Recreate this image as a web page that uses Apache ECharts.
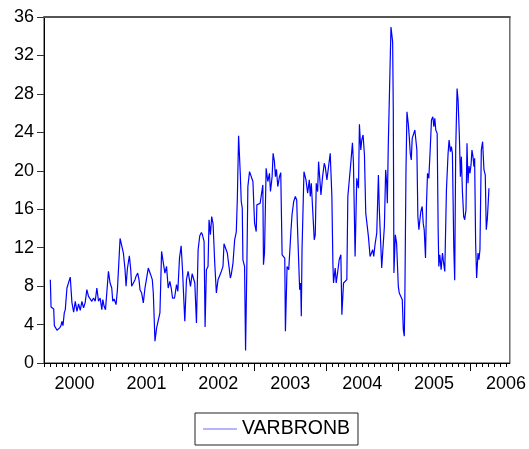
<!DOCTYPE html>
<html>
<head>
<meta charset="utf-8">
<script src="https://cdn.jsdelivr.net/npm/echarts@6/dist/echarts.min.js"></script>
<style>
  html, body { margin: 0; padding: 0; background: #fff; }
  #chart { width: 529px; height: 449px; }
</style>
</head>
<body>
<div id="chart"></div>
<script>
// Observation dates (decimal years) of VARBRONB
const obsYears = [
  2000.164, 2000.174, 2000.211, 2000.220, 2000.247, 2000.257, 2000.280, 2000.294, 2000.312, 2000.326,
  2000.340, 2000.358, 2000.372, 2000.395, 2000.418, 2000.441, 2000.464, 2000.488, 2000.511, 2000.534,
  2000.557, 2000.580, 2000.603, 2000.626, 2000.649, 2000.672, 2000.695, 2000.718, 2000.741, 2000.765,
  2000.788, 2000.811, 2000.834, 2000.857, 2000.880, 2000.894, 2000.912, 2000.931, 2000.949, 2000.972,
  2000.995, 2001.018, 2001.032, 2001.051, 2001.078, 2001.097, 2001.115, 2001.134, 2001.157, 2001.180,
  2001.203, 2001.217, 2001.235, 2001.263, 2001.282, 2001.295, 2001.319, 2001.342, 2001.355, 2001.379,
  2001.397, 2001.411, 2001.434, 2001.457, 2001.480, 2001.503, 2001.526, 2001.549, 2001.559, 2001.582,
  2001.596, 2001.619, 2001.642, 2001.669, 2001.688, 2001.711, 2001.734, 2001.757, 2001.780, 2001.803,
  2001.826, 2001.845, 2001.863, 2001.891, 2001.919, 2001.937, 2001.960, 2001.983, 2002.002, 2002.016,
  2002.034, 2002.057, 2002.080, 2002.094, 2002.113, 2002.136, 2002.159, 2002.173, 2002.196, 2002.219,
  2002.242, 2002.265, 2002.279, 2002.302, 2002.316, 2002.334, 2002.357, 2002.371, 2002.390, 2002.408,
  2002.427, 2002.450, 2002.473, 2002.496, 2002.519, 2002.542, 2002.565, 2002.579, 2002.602, 2002.625,
  2002.648, 2002.667, 2002.680, 2002.704, 2002.727, 2002.750, 2002.764, 2002.782, 2002.805, 2002.819,
  2002.833, 2002.842, 2002.865, 2002.879, 2002.898, 2002.911, 2002.934, 2002.958, 2002.981, 2003.004,
  2003.027, 2003.036, 2003.059, 2003.082, 2003.105, 2003.119, 2003.128, 2003.142, 2003.165, 2003.188,
  2003.211, 2003.225, 2003.248, 2003.262, 2003.280, 2003.294, 2003.308, 2003.327, 2003.350, 2003.368,
  2003.387, 2003.410, 2003.424, 2003.433, 2003.456, 2003.479, 2003.497, 2003.511, 2003.525, 2003.548,
  2003.571, 2003.590, 2003.599, 2003.618, 2003.631, 2003.645, 2003.654, 2003.664, 2003.678, 2003.691,
  2003.719, 2003.742, 2003.765, 2003.779, 2003.793, 2003.811, 2003.834, 2003.848, 2003.862, 2003.881,
  2003.894, 2003.913, 2003.927, 2003.950, 2003.973, 2003.987, 2004.010, 2004.033, 2004.056, 2004.079,
  2004.093, 2004.102, 2004.125, 2004.139, 2004.158, 2004.181, 2004.204, 2004.218, 2004.241, 2004.264,
  2004.287, 2004.301, 2004.324, 2004.342, 2004.365, 2004.379, 2004.402, 2004.425, 2004.449, 2004.462,
  2004.481, 2004.495, 2004.513, 2004.532, 2004.550, 2004.569, 2004.587, 2004.610, 2004.633, 2004.647,
  2004.661, 2004.679, 2004.703, 2004.726, 2004.739, 2004.758, 2004.772, 2004.795, 2004.809, 2004.827,
  2004.841, 2004.850, 2004.864, 2004.887, 2004.901, 2004.924, 2004.933, 2004.942, 2004.961, 2004.979,
  2005.003, 2005.016, 2005.040, 2005.058, 2005.072, 2005.086, 2005.095, 2005.109, 2005.123, 2005.141,
  2005.155, 2005.169, 2005.183, 2005.196, 2005.215, 2005.233, 2005.247, 2005.261, 2005.275, 2005.289,
  2005.303, 2005.316, 2005.335, 2005.349, 2005.363, 2005.381, 2005.395, 2005.409, 2005.427, 2005.446,
  2005.464, 2005.483, 2005.497, 2005.510, 2005.524, 2005.543, 2005.557, 2005.566, 2005.580, 2005.598,
  2005.617, 2005.630, 2005.649, 2005.672, 2005.695, 2005.709, 2005.727, 2005.741, 2005.755, 2005.774,
  2005.787, 2005.801, 2005.820, 2005.834, 2005.852, 2005.866, 2005.880, 2005.894, 2005.912, 2005.926,
  2005.944, 2005.958, 2005.972, 2005.986, 2005.999, 2006.014, 2006.027, 2006.041, 2006.055, 2006.064,
  2006.078, 2006.092, 2006.111, 2006.124, 2006.138, 2006.157, 2006.175, 2006.194, 2006.212, 2006.226,
  2006.240, 2006.254, 2006.263
];

// VARBRONB values
const varbronb = [
  8.67, 5.83, 5.62, 3.89, 3.82, 3.41, 3.27, 3.65, 3.89, 4.34,
  3.89, 5.21, 5.55, 7.80, 7.87, 8.94, 6.31, 5.28, 6.42, 5.38,
  6.14, 5.48, 6.42, 5.73, 6.31, 7.63, 6.94, 7.04, 6.42, 6.76,
  6.42, 7.80, 6.42, 6.76, 5.55, 6.59, 5.90, 5.55, 7.28, 9.53,
  8.32, 7.80, 6.42, 6.66, 6.07, 7.63, 7.80, 12.96, 12.99, 11.44,
  9.71, 7.98, 9.78, 11.16, 9.71, 7.98, 8.15, 8.67, 9.01, 9.36,
  8.67, 7.63, 7.28, 6.25, 7.80, 7.63, 9.88, 9.88, 9.19, 8.67,
  7.28, 2.27, 3.65, 3.65, 5.21, 11.61, 11.44, 9.36, 10.05, 7.80,
  8.49, 7.80, 6.76, 6.76, 8.15, 7.46, 10.92, 12.20, 9.71, 7.28,
  4.34, 8.67, 9.53, 9.71, 7.98, 9.29, 9.43, 8.32, 4.17, 11.78,
  13.24, 13.58, 13.34, 12.65, 3.75, 9.71, 10.05, 14.90, 13.34, 15.24,
  14.48, 10.40, 7.28, 8.67, 8.84, 9.53, 10.05, 12.41, 12.41, 11.44,
  10.05, 8.84, 9.19, 10.40, 12.82, 13.65, 16.97, 23.65, 19.74, 16.80,
  16.11, 10.74, 10.05, 1.30, 10.74, 18.36, 19.91, 19.91, 18.88, 14.55,
  13.68, 16.45, 16.56, 16.63, 16.73, 18.53, 10.22, 11.44, 20.26, 18.88,
  19.74, 17.84, 19.39, 21.82, 20.95, 19.39, 20.16, 18.36, 19.39, 19.81,
  11.26, 11.26, 10.92, 3.31, 10.05, 9.71, 9.53, 13.86, 15.42, 16.80,
  17.32, 16.97, 14.55, 14.55, 7.63, 8.32, 4.86, 11.78, 11.96, 19.91,
  19.05, 17.66, 19.05, 17.32, 18.70, 18.70, 12.82, 13.34, 18.70, 17.84,
  20.95, 21.06, 17.49, 19.39, 20.78, 20.43, 19.05, 19.12, 21.82, 17.32,
  10.40, 8.32, 9.88, 8.32, 9.36, 10.74, 11.26, 5.03, 8.32, 8.49,
  8.67, 17.32, 17.49, 20.78, 22.92, 20.78, 11.09, 19.22, 18.18, 24.83,
  22.16, 23.20, 23.72, 21.64, 15.59, 15.59, 13.17, 11.09, 10.92, 11.78,
  11.09, 12.30, 13.51, 19.57, 15.93, 15.93, 9.88, 9.88, 14.20, 20.09,
  18.70, 16.63, 22.86, 30.47, 34.96, 33.41, 26.31, 9.36, 13.34, 12.47,
  7.97, 7.28, 7.46, 6.59, 3.48, 2.79, 7.63, 19.74, 26.14, 24.93,
  23.55, 21.82, 21.13, 23.37, 23.20, 24.24, 23.20, 22.16, 15.24, 13.86,
  14.90, 15.76, 16.28, 14.55, 13.86, 10.92, 16.63, 19.74, 19.22, 22.16,
  25.28, 25.62, 24.58, 25.45, 24.24, 23.89, 13.86, 10.05, 11.26, 9.71,
  11.44, 10.57, 9.53, 18.01, 21.82, 23.20, 21.99, 22.51, 21.82, 12.13,
  8.60, 22.16, 28.56, 27.35, 23.55, 19.39, 21.47, 17.84, 15.24, 14.90,
  15.93, 22.86, 18.70, 20.50, 19.74, 20.61, 22.16, 21.47, 20.43, 21.30,
  12.47, 8.84, 11.44, 10.74, 11.78, 22.16, 23.03, 20.09, 19.57, 13.86,
  14.90, 16.80, 18.18
];

// Axis marks: year boundaries, year labels (centred in each year), month ticks
const yearTicks = [2001, 2002, 2003, 2004, 2005, 2006];
const yearLabels = [2000, 2001, 2002, 2003, 2004, 2005, 2006];
const monthTicks = [];
for (let y = 2000; y <= 2006; y++) {
  for (let m = 1; m < 12; m++) monthTicks.push(y + m / 12);
}
const yTicks = [0, 4, 8, 12, 16, 20, 24, 28, 32, 36];

const xMin = 2000.076;
const xMax = 2006.554;
const FONT = '"Liberation Sans", Arial, sans-serif';

const seriesData = obsYears.map((t, i) => [t, varbronb[i]]);

const chart = echarts.init(document.getElementById('chart'), null, { renderer: 'canvas' });
chart.setOption({
  animation: false,
  backgroundColor: '#ffffff',
  grid: {
    left: 44, right: 17, top: 17, bottom: 86,
    show: true, borderColor: '#222', borderWidth: 1,
    containLabel: false
  },
  legend: {
    data: ['VARBRONB'],
    left: 195, top: 413,
    orient: 'horizontal',
    padding: [6, 8, 6, 8],
    borderColor: '#222', borderWidth: 1,
    icon: 'rect', itemWidth: 34, itemHeight: 1,
    itemStyle: { color: '#6a6aff' },
    textStyle: { fontFamily: FONT, fontSize: 19.5, color: '#000' }
  },
  xAxis: [
    {
      type: 'value', min: xMin, max: xMax,
      axisLine: { show: true, lineStyle: { color: '#000', width: 1 } },
      axisTick: { show: true, customValues: yearTicks, length: 8, lineStyle: { color: '#000' } },
      axisLabel: {
        show: true,
        customValues: yearLabels.map(y => y + 0.5),
        formatter: v => String(Math.floor(v)),
        fontFamily: FONT, fontSize: 18, color: '#000', margin: 12
      },
      splitLine: { show: false }
    },
    {
      type: 'value', min: xMin, max: xMax, position: 'bottom',
      axisLine: { show: false },
      axisTick: { show: true, customValues: monthTicks, length: 4, lineStyle: { color: '#000' } },
      axisLabel: { show: false },
      splitLine: { show: false }
    },
    {
      // heavier grey frame edge along the top
      type: 'value', min: xMin, max: xMax, position: 'top',
      axisLine: { show: true, lineStyle: { color: '#555', width: 2 } },
      axisTick: { show: false },
      axisLabel: { show: false },
      splitLine: { show: false }
    }
  ],
  yAxis: {
    type: 'value', min: 0, max: 36, interval: 4,
    axisLine: { show: true, lineStyle: { color: '#000' } },
    axisTick: { show: true, length: 7, lineStyle: { color: '#333' } },
    axisLabel: {
      customValues: yTicks,
      fontFamily: FONT, fontSize: 18, color: '#000', margin: 10
    },
    splitLine: { show: false }
  },
  series: [{
    name: 'VARBRONB',
    type: 'line',
    xAxisIndex: 0,
    data: seriesData,
    symbol: 'none',
    lineStyle: { color: '#0000ff', width: 1.2 },
    itemStyle: { color: '#0000ff' }
  }]
});
</script>
</body>
</html>
